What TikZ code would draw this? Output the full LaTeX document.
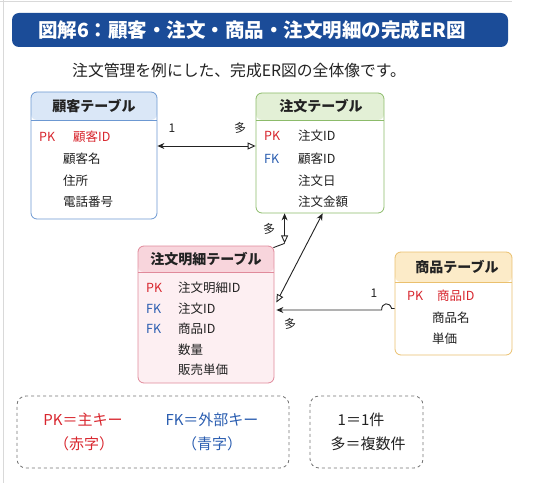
\documentclass[tikz,border=0pt]{standalone}
\usepackage{fontspec}
\setmainfont{Noto Sans CJK JP}
\usetikzlibrary{arrows.meta,calc}

\definecolor{ink}{HTML}{222222}
\definecolor{banner}{HTML}{1B4C98}
\definecolor{pkred}{HTML}{D8262E}
\definecolor{fkblue}{HTML}{2A5DB0}
\definecolor{custline}{HTML}{6C98D2}
\definecolor{custhead}{HTML}{DAE7F7}
\definecolor{ordline}{HTML}{8CBB6A}
\definecolor{ordhead}{HTML}{E3F0D6}
\definecolor{detline}{HTML}{E08A9B}
\definecolor{dethead}{HTML}{F8D5DC}
\definecolor{detbody}{HTML}{FDEFF2}
\definecolor{prodline}{HTML}{EAC06E}
\definecolor{prodhead}{HTML}{FCEBC8}

\begin{document}
\begin{tikzpicture}[x=1pt, y=-1pt,
  tbl/.style n args={3}{draw=#1, line width=0.8pt, rounded corners=6pt,
    path picture={
      \fill[#2] (path picture bounding box.north west) rectangle ([yshift=-#3]path picture bounding box.north east);
      \draw[#1, line width=0.8pt] ([yshift=-#3]path picture bounding box.north west) -- ([yshift=-#3]path picture bounding box.north east);
    }},
  hd/.style={inner sep=0pt, text=ink, font=\bfseries\fontsize{14}{16}\selectfont},
  fld/.style={anchor=west, inner sep=0pt, text=ink, font=\fontsize{12.5}{14}\selectfont},
  pk/.style={fld, text=pkred},
  fk/.style={fld, text=fkblue},
  card/.style={inner sep=0pt, text=ink, font=\fontsize{12}{14}\selectfont},
  rel/.style={line width=0.9pt, draw=ink, {Stealth[length=7pt,width=6pt]}-{Triangle[open,length=8pt,width=7pt]}},
  legend/.style={draw=black!55, dashed, line width=0.8pt, rounded corners=9pt},
  lg/.style={inner sep=0pt, font=\fontsize{15}{17}\selectfont},
]
\useasboundingbox (0,0) rectangle (538,497);

% 外枠
\draw[black!15, line width=1pt] (0,2) -- (512,2);
\draw[black!15, line width=1pt] (3,0) -- (3,483);

% タイトル
\node[fill=banner, rounded corners=7pt, minimum width=496pt, minimum height=34pt,
      text width=444pt, align=left, inner xsep=26pt, text=white,
      font=\bfseries\fontsize{19.5}{21}\selectfont] (title) at (260,30)
      {図解6：顧客・注文・商品・注文明細の完成ER図};
\node[inner sep=0pt, anchor=west, text=ink, font=\fontsize{15.8}{17}\selectfont] (sub) at (72,71)
      {注文管理を例にした、完成ER図の全体像です。};

% テーブル
\node[tbl={custline}{custhead}{28pt}, fill=white, minimum width=126pt, minimum height=127pt] (cust) at (94,155.5) {};
\node[tbl={ordline}{ordhead}{27pt}, fill=white, minimum width=128pt, minimum height=120pt] (ord) at (320,153) {};
\node[tbl={detline}{dethead}{26pt}, fill=detbody, minimum width=136pt, minimum height=137pt] (det) at (206,314.5) {};
\node[tbl={prodline}{prodhead}{30pt}, fill=white, minimum width=117pt, minimum height=103pt] (prod) at (453.5,303.5) {};

% 見出し
\node[hd] (cust-h) at (94,106) {顧客テーブル};
\node[hd] (ord-h) at (321,106) {注文テーブル};
\node[hd] (det-h) at (206,259) {注文明細テーブル};
\node[hd] (prod-h) at (457,267) {商品テーブル};

% 項目
\node[pk] (cust-pk) at (39,137) {PK};
\node[pk] (cust-f1) at (73,137) {顧客ID};
\node[fld] (cust-f2) at (63,159) {顧客名};
\node[fld] (cust-f3) at (63,181) {住所};
\node[fld] (cust-f4) at (63,202) {電話番号};

\node[pk] (ord-pk) at (264,136) {PK};
\node[fld] (ord-f1) at (298,136) {注文ID};
\node[fk] (ord-fk) at (264,159) {FK};
\node[fld] (ord-f2) at (298,159) {顧客ID};
\node[fld] (ord-f3) at (298,181) {注文日};
\node[fld] (ord-f4) at (298,202) {注文金額};

\node[pk] (det-pk) at (146,288) {PK};
\node[fld] (det-f1) at (178,288) {注文明細ID};
\node[fk] (det-fk1) at (146,309) {FK};
\node[fld] (det-f2) at (178,309) {注文ID};
\node[fk] (det-fk2) at (146,329) {FK};
\node[fld] (det-f3) at (178,329) {商品ID};
\node[fld] (det-f4) at (178,350) {数量};
\node[fld] (det-f5) at (178,370) {販売単価};

\node[pk] (prod-pk) at (407,296) {PK};
\node[pk] (prod-f1) at (437,296) {商品ID};
\node[fld] (prod-f2) at (432,318) {商品名};
\node[fld] (prod-f3) at (432,339) {単価};

% 線を引く
\draw[rel] ($(cust.east)+(0,-9.5)$) -- ($(ord.west)+(0,-7)$);
\draw[rel] ($(ord.south west)+(29,0)$) -- ($(ord.south west)+(29,30)$) coordinate (v1);
\draw[line width=0.9pt, ink] (v1) to[out=200, in=20] ($(det.north east)+(-1,2)$);
\draw[rel] ($(ord.south west)+(67,0)$) -- ($(det.east)+(2,-12)$);
\draw[line width=0.9pt, ink, {Stealth[length=7pt,width=6pt]}-]
  ($(det.east)+(2,-4.5)$) -- ($(prod.west)+(-13,6.5)$)
  .. controls ($(prod.west)+(-13,-1)$) and ($(prod.west)+(-5,-2)$) .. ($(prod.west)+(-3,5)$)
  -- ($(prod.west)+(0,5)$);

% 多重度
\node[card] (c1) at (172,128) {1};
\node[card] (c2) at (240,128) {多};
\node[card] (c3) at (269,229) {多};
\node[card] (c4) at (374,293) {1};
\node[card] (c5) at (290,324) {多};

% 凡例
\node[legend, minimum width=272pt, minimum height=72pt] (key) at (153,432) {};
\node[legend, minimum width=113pt, minimum height=72pt] (mult) at (366.5,432) {};
\node[lg, text=pkred] (key-pk) at (83,420) {PK＝主キー};
\node[lg, text=pkred] (key-pk2) at (84,444) {（赤字）};
\node[lg, text=fkblue] (key-fk) at (212,420) {FK＝外部キー};
\node[lg, text=fkblue] (key-fk2) at (212,444) {（青字）};
\node[lg, text=ink] (mult-1) at (361,420) {1＝1件};
\node[lg, text=ink] (mult-2) at (368,444) {多＝複数件};
\end{tikzpicture}
\end{document}
